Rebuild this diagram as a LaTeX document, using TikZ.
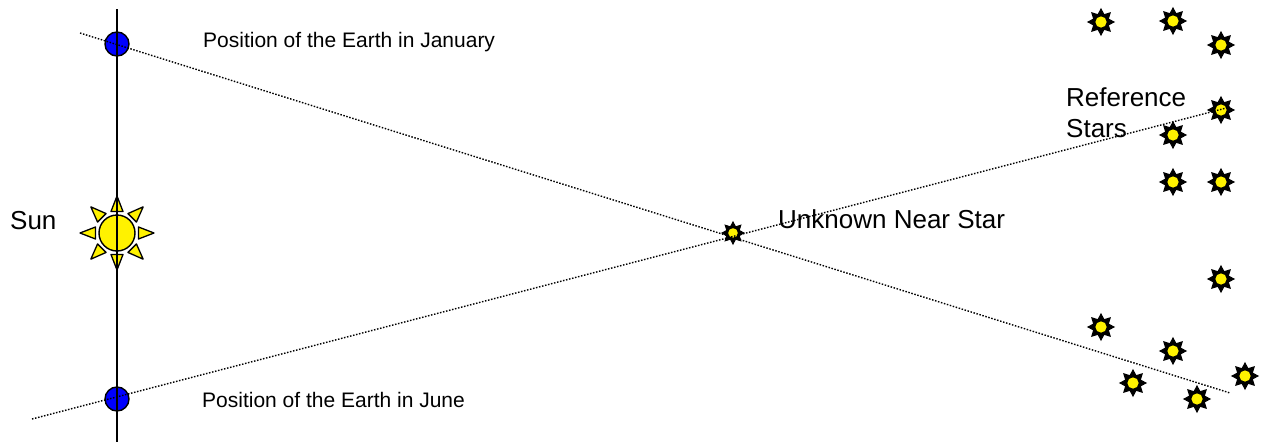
\documentclass[tikz,border=0pt]{standalone}
\usepackage{fontspec}
\setmainfont{Liberation Sans}
\usetikzlibrary{shapes.geometric}
\tikzset{
  refstar/.style={star, star points=8, star point ratio=1.65, minimum size=26pt, inner sep=0pt, fill=black, draw=black, line width=1pt,
    path picture={\fill[yellow] (path picture bounding box.center) circle (5.6pt);}},
  nearstar/.style={star, star points=8, star point ratio=1.65, minimum size=22pt, inner sep=0pt, fill=black, draw=black, line width=1pt,
    path picture={\fill[yellow] (path picture bounding box.center) circle (4.8pt);}},
  earth/.style={circle, minimum size=24pt, inner sep=0pt, fill=blue, draw=black, line width=1.4pt},
  sunbody/.style={circle, minimum size=36pt, inner sep=0pt, fill=yellow, draw=black, line width=1.4pt},
  ray/.style={fill=yellow, draw=black, line width=1.3pt, line join=round},
  sight/.style={line width=1.4pt, dash pattern=on 1.5pt off 1.6pt},
  axis/.style={line width=2pt},
  smalllabel/.style={font=\fontsize{21}{25}\selectfont, inner sep=0pt, anchor=base west},
  biglabel/.style={font=\fontsize{26}{31}\selectfont, inner sep=0pt, anchor=base west, align=left}
}
\begin{document}
\begin{tikzpicture}[x=1pt,y=-1pt]
\useasboundingbox[fill=white] (0,0) rectangle (1262,442);

% labels
\node[biglabel] (sunlabel) at (10,229) {Sun};
\node[smalllabel] (janlabel) at (203,47) {Position of the Earth in January};
\node[smalllabel] (junlabel) at (202,407) {Position of the Earth in June};
\node[biglabel] (nearlabel) at (778,228) {Unknown Near Star};
\node[biglabel, anchor=north west] (reflabel) at (1066,87) {Reference\\Stars};

% Earth positions
\node[earth] (earthjan) at (117,44) {};
\node[earth] (earthjun) at (117,399) {};

% Sun
\node[sunbody] (sun) at (117,233) {};
\begin{scope}[shift={(sun.center)}]
  \foreach \a in {0,45,...,315}
    \filldraw[ray, rotate=\a] (21.5pt,-6pt) -- (37pt,0pt) -- (21.5pt,6pt) -- cycle;
\end{scope}

% stars
\node[nearstar] (near) at (733,233) {};
\node[refstar] (r1) at (1101,22) {};
\node[refstar] (r2) at (1173,21) {};
\node[refstar] (r3) at (1221,45) {};
\node[refstar] (r4) at (1221,110) {};
\node[refstar] (r5) at (1173,135) {};
\node[refstar] (r6) at (1173,182) {};
\node[refstar] (r7) at (1221,182) {};
\node[refstar] (r8) at (1221,279) {};
\node[refstar] (r9) at (1101,327) {};
\node[refstar] (r10) at (1173,351) {};
\node[refstar] (r11) at (1133,383) {};
\node[refstar] (r12) at (1197,399) {};
\node[refstar] (r13) at (1245,376) {};

% axis through Sun and Earth
\coordinate (axtop) at (117,9);
\coordinate (axbot) at (117,442);
\draw[axis] (axtop) -- (axbot);

% lines of sight
\coordinate (janstart) at (80,33);
\coordinate (janend) at (1230,393);
\coordinate (junstart) at (32,419);
\coordinate (junend) at (1230,107);
\draw[sight] (janstart) -- (janend);
\draw[sight] (junstart) -- (junend);
\end{tikzpicture}
\end{document}
